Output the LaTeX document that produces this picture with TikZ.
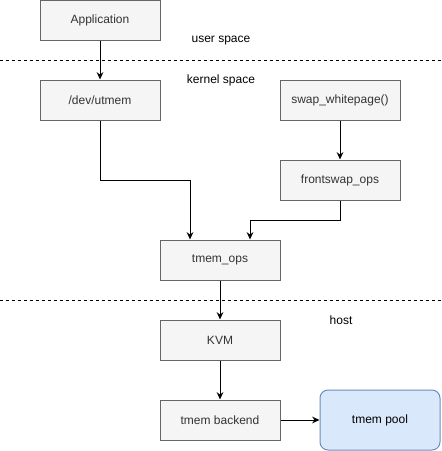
\documentclass[tikz,border=0pt]{standalone}
\usepackage{fontspec}
\setmainfont{Liberation Sans}
\usetikzlibrary{arrows.meta}
\definecolor{boxfill}{HTML}{F5F5F5}
\definecolor{boxline}{HTML}{666666}
\definecolor{boxtext}{HTML}{333333}
\definecolor{poolfill}{HTML}{DAE8FC}
\definecolor{poolline}{HTML}{6C8EBF}
\tikzset{
  box/.style={draw=boxline,fill=boxfill,text=boxtext,line width=0.75pt,
    minimum width=90pt,minimum height=30pt,inner sep=0pt},
  pool/.style={draw=poolline,fill=poolfill,line width=0.75pt,rounded corners=6pt,
    minimum width=90pt,minimum height=45pt,inner sep=0pt},
  link/.style={line width=0.75pt,-{Stealth[length=5.5pt,width=5pt]}},
  layer/.style={line width=0.75pt,dash pattern=on 2.25pt off 2.25pt},
  tag/.style={inner sep=0pt}
}
\begin{document}
\begin{tikzpicture}
[x=0.75pt,y=-0.75pt,font=\fontsize{9pt}{11pt}\selectfont]
\useasboundingbox (0,0) rectangle (442,451);
\node[box] (app) at (100,20) {Application};
\node[box] (dev) at (100,100) {/dev/utmem};
\node[box] (swap) at (340,100) {swap\_whitepage()};
\node[box] (front) at (340,180) {frontswap\_ops};
\node[box] (ops) at (220,260) {tmem\_ops};
\node[box] (kvm) at (220,340) {KVM};
\node[box] (backend) at (220,420) {tmem backend};
\node[pool] (pool) at (380,420) {tmem pool};
\node[tag] (user) at (221,41) {user space};
\node[tag] (kernel) at (221,80) {kernel space};
\node[tag] (host) at (341,320) {host};
\coordinate (l1) at (0,60.5); \coordinate (r1) at (442,60.5);
\coordinate (l2) at (0,300.5); \coordinate (r2) at (442,300.5);
\draw[layer] (l1) -- (r1);
\draw[layer] (l2) -- (r2);
\draw[link] (app) -- (dev);
\draw[link] (swap) -- (front);
\draw[link] (dev.south) -- ++(0,60) -| ([xshift=-22.5pt]ops.north);
\draw[link] (front.south) -- ++(0,20) -| ([xshift=22.5pt]ops.north);
\draw[link] (ops) -- (kvm);
\draw[link] (kvm) -- (backend);
\draw[link] (backend) -- (pool);
\end{tikzpicture}
\end{document}
